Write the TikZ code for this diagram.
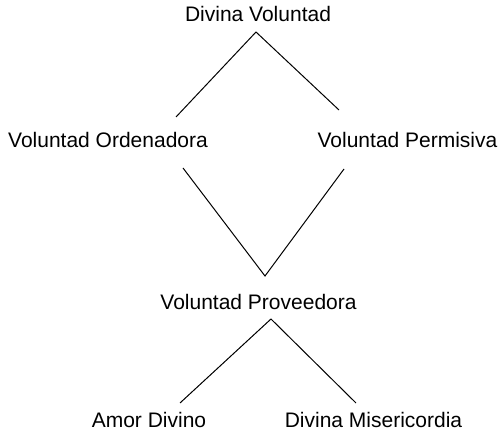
\documentclass[tikz,border=0pt]{standalone}
\usepackage{fontspec}
\setmainfont{Liberation Sans}
\begin{document}
\begin{tikzpicture}[x=1pt,y=-1pt,
  lbl/.style={anchor=base,inner sep=0pt,font=\fontsize{21}{24}\selectfont},
  link/.style={line width=1pt}]
\useasboundingbox (0,0) rectangle (499,433);
\node[lbl] (dv) at (258,22) {Divina Voluntad};
\node[lbl] (vo) at (108,148) {Voluntad Ordenadora};
\node[lbl] (vp) at (407.5,148) {Voluntad Permisiva};
\node[lbl] (vpr) at (258.5,310) {Voluntad Proveedora};
\node[lbl] (ad) at (149,428) {Amor Divino};
\node[lbl] (dm) at (373.5,428) {Divina Misericordia};
\coordinate (dvs) at (256,32);
\coordinate (voN) at (176,117);
\coordinate (vpN) at (339,110);
\coordinate (voS) at (183,168);
\coordinate (vpS) at (344,169);
\coordinate (vprN) at (265,276);
\coordinate (vprS) at (271,319);
\coordinate (adN) at (180,403);
\coordinate (dmN) at (356,403);
\draw[link] (voN) -- (dvs) -- (vpN);
\draw[link] (voS) -- (vprN) -- (vpS);
\draw[link] (adN) -- (vprS) -- (dmN);
\end{tikzpicture}
\end{document}
